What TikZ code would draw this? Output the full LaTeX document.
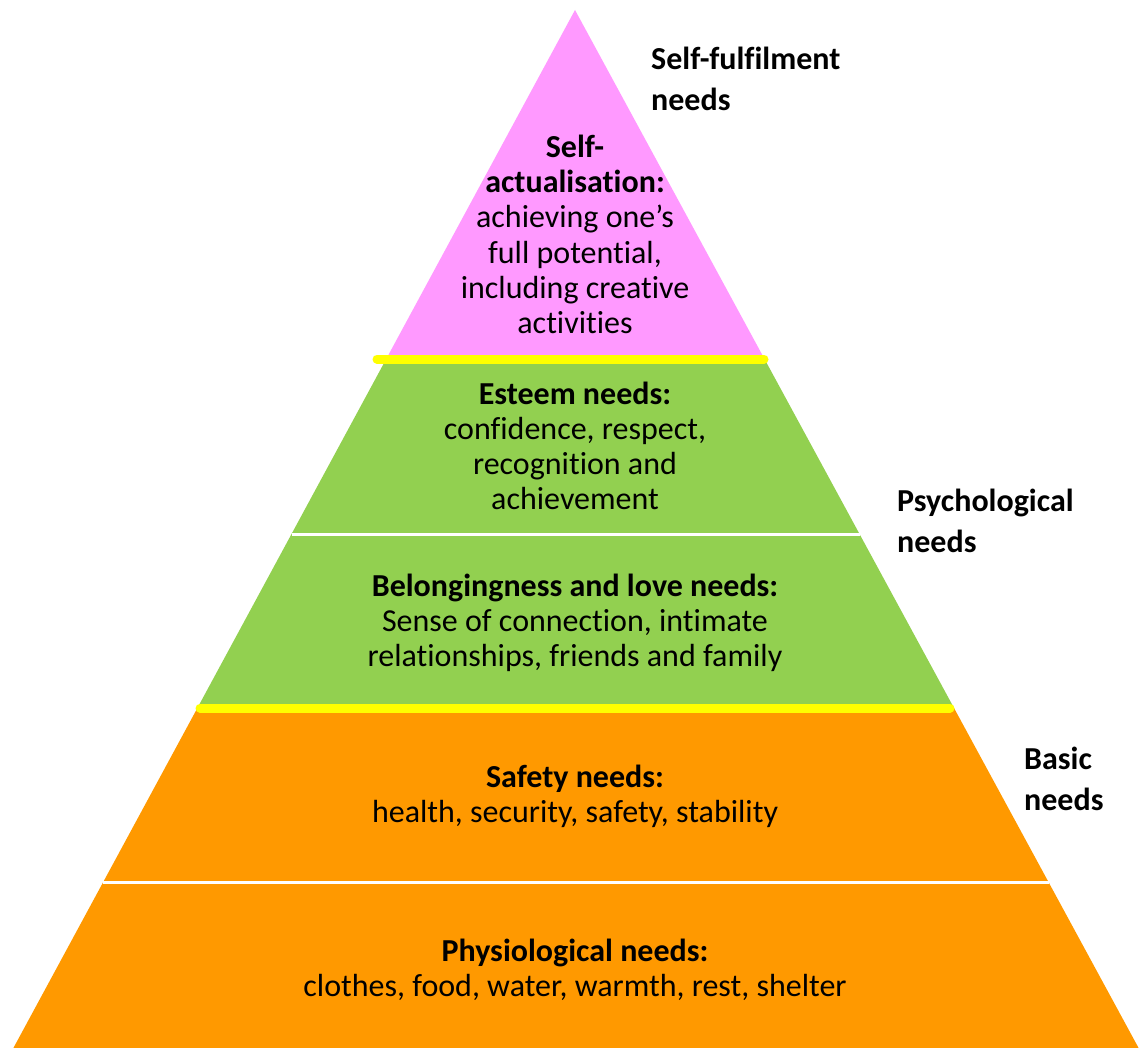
\documentclass[tikz,border=0pt]{standalone}
\usepackage{fontspec}
\setmainfont{Carlito}[Ligatures=NoCommon]
\definecolor{pinkL}{HTML}{FF99FF}
\definecolor{greenL}{HTML}{92D050}
\definecolor{orangeL}{HTML}{FF9900}
\definecolor{yellowL}{HTML}{FFFF00}
\begin{document}
\begin{tikzpicture}[x=1pt,y=-1pt,
  blocktext/.style={anchor=base,align=center,inner sep=0pt,font=\fontsize{32}{35}\selectfont},
  sidetext/.style={anchor=base west,align=left,inner sep=0pt,font=\fontsize{32}{41}\selectfont\bfseries},
  sepline/.style={white,line width=3pt},
  yline/.style={yellowL,line width=9pt,line cap=round}]
\useasboundingbox (0,0) rectangle (1139,1048);
% layers
\fill[pinkL] (575,10) -- (386.2,359) -- (764.5,359) -- cycle;
\fill[greenL] (386.2,359) -- (197.4,708) -- (954,708) -- (764.5,359) -- cycle;
\fill[orangeL] (197.4,708) -- (13.4,1048) -- (1138.6,1048) -- (954,708) -- cycle;
% separators
\coordinate (s1a) at (291.5,534.5); \coordinate (s1b) at (859.5,534.5);
\coordinate (s2a) at (103.2,882.5); \coordinate (s2b) at (1048.5,882.5);
\draw[sepline] (s1a) -- (s1b);
\draw[sepline] (s2a) -- (s2b);
\coordinate (y1a) at (377,359); \coordinate (y1b) at (764,359);
\coordinate (y2a) at (200,708); \coordinate (y2b) at (950,708);
\draw[yline] (y1a) -- (y1b);
\draw[yline] (y2a) -- (y2b);
% texts (anchor base = baseline of last line)
\node[blocktext] (selfact) at (575,333) {\textbf{Self-}\\\textbf{actualisation:}\\achieving one’s\\full potential,\\including creative\\activities};
\node[blocktext] (esteem) at (575,509) {\textbf{Esteem needs:}\\confidence, respect,\\recognition and\\achievement};
\node[blocktext] (belong) at (575,666) {\textbf{Belongingness and love needs:}\\Sense of connection, intimate\\relationships, friends and family};
\node[blocktext] (safety) at (575,822) {\textbf{Safety needs:}\\health, security, safety, stability};
\node[blocktext] (physio) at (575,996) {\textbf{Physiological needs:}\\clothes, food, water, warmth, rest, shelter};
\node[sidetext] (fulfil) at (651,111) {Self-fulfilment\\needs};
\node[sidetext] (psych) at (897,552) {Psychological\\needs};
\node[sidetext] (basic) at (1024,810) {Basic\\needs};
\end{tikzpicture}
\end{document}
